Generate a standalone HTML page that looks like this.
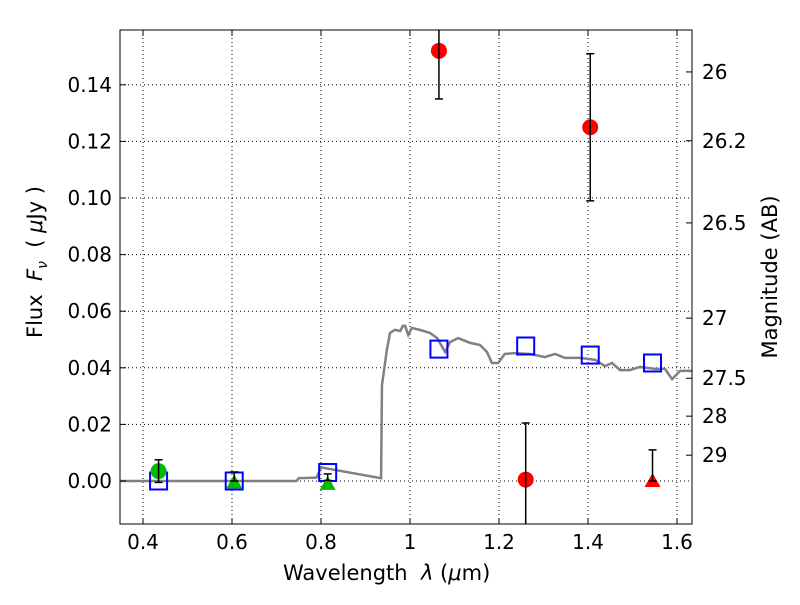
<!DOCTYPE html>
<html><head><meta charset="utf-8"><style>
body{margin:0;background:#fff;}
svg text{font-family:"DejaVu Sans","Liberation Sans",sans-serif;fill:#000;}
</style></head><body>
<svg id="c" width="800" height="600"></svg>
<script>
const modelLam=[0.35,0.745,0.75,0.79,0.8,0.935,0.937,0.948,0.955,0.966,0.978,0.984,0.989,0.996,1.004,1.022,1.045,1.061,1.079,1.090,1.108,1.135,1.157,1.173,1.184,1.198,1.213,1.236,1.270,1.303,1.326,1.348,1.382,1.416,1.438,1.454,1.472,1.494,1.517,1.551,1.573,1.589,1.607,1.634];
const modelFlux=[0,0,0.001,0.0012,0.0048,0.001,0.0339,0.0463,0.0523,0.0534,0.053,0.0548,0.0548,0.0516,0.0541,0.0534,0.0523,0.0505,0.0456,0.0491,0.0505,0.0488,0.0481,0.0456,0.0417,0.0417,0.0449,0.0452,0.0449,0.0438,0.0449,0.0435,0.0435,0.0428,0.0406,0.0417,0.0392,0.0392,0.0403,0.0396,0.0396,0.036,0.0389,0.0389];
const sqLam=[0.435,0.605,0.815,1.065,1.26,1.405,1.545];
const sqFlux=[0,0,0.003,0.0466,0.0477,0.0445,0.0417];
const gcLam=[0.435];const gcFlux=[0.0035];const gcLo=[-0.0005];const gcHi=[0.0075];
const gtLam=[0.605,0.815];const gtFlux=[-0.0005,-0.001];const gtLo=[0,0.0002];const gtHi=[0.0032,0.0025];
const rcLam=[1.065,1.405,1.26];const rcFlux=[0.152,0.125,0.0005];const rcLo=[0.135,0.099,-0.02];const rcHi=[0.17,0.151,0.0205];
const rtLam=[1.545];const rtFlux=[0];const rtLo=[0];const rtHi=[0.011];
const xTicks=[0.4,0.6,0.8,1,1.2,1.4,1.6];
const yTicks=[0,0.02,0.04,0.06,0.08,0.1,0.12,0.14];
const magTicks=[26,26.2,26.5,27,27.5,28,29];

const L=120,R=692,T=30,B=524;
const sx=v=>143+(v-0.4)*445;
const sy=v=>481-v*2830;
const svg=document.getElementById('c');
const NS='http://www.w3.org/2000/svg';
function mk(t,a,p){const e=document.createElementNS(NS,t);for(const k in a)e.setAttribute(k,a[k]);(p||svg).appendChild(e);return e;}
const defs=mk('defs',{});const cp=mk('clipPath',{id:'pc'},defs);mk('rect',{x:L,y:T,width:R-L,height:B-T},cp);
const plot=mk('g',{'clip-path':'url(#pc)'});


xTicks.forEach(v=>{const g=mk('line',{x1:sx(v),x2:sx(v),y1:T,y2:B,stroke:'#000','stroke-width':1,'stroke-dasharray':'1,3'},plot);

});
yTicks.forEach(v=>{const g=mk('line',{x1:L,x2:R,y1:sy(v),y2:sy(v),stroke:'#000','stroke-width':1,'stroke-dasharray':'1,3'},plot);

});
const ml=mk('polyline',{points:modelLam.map((l,i)=>sx(l)+','+sy(modelFlux[i])).join(' '),fill:'none',stroke:'#808080','stroke-width':2.5},plot);


sqLam.forEach((l,i)=>{const r=mk('rect',{x:sx(l)-8.5,y:sy(sqFlux[i])-8.5,width:17,height:17,fill:'none',stroke:'#0000ff','stroke-width':2},plot);

});
function errbar(x,lo,hi){const g=mk('g',{},plot);


mk('line',{x1:x,x2:x,y1:sy(lo),y2:sy(hi),stroke:'#000','stroke-width':1.5},g);
mk('line',{x1:x-4,x2:x+4,y1:sy(lo),y2:sy(lo),stroke:'#000','stroke-width':1.5},g);
mk('line',{x1:x-4,x2:x+4,y1:sy(hi),y2:sy(hi),stroke:'#000','stroke-width':1.5},g);}
function circ(lams,fl,lo,hi,col,name){lams.forEach((l,i)=>{const c=mk('circle',{cx:sx(l),cy:sy(fl[i]),r:8,fill:col},plot);


errbar(sx(l),lo[i],hi[i]);});}
function tri(lams,fl,lo,hi,col,name){lams.forEach((l,i)=>{const x=sx(l),y=sy(fl[i]);const t=mk('polygon',{points:`${x},${y-8} ${x-8},${y+6} ${x+8},${y+6}`,fill:col},plot);


errbar(x,lo[i],hi[i]);});}
circ(gcLam,gcFlux,gcLo,gcHi,'#00bb00','green-detection-point');
tri(gtLam,gtFlux,gtLo,gtHi,'#00bb00','green-upper-limit-triangle');
circ(rcLam,rcFlux,rcLo,rcHi,'#ff0000','red-detection-point');
tri(rtLam,rtFlux,rtLo,rtHi,'#ff0000','red-upper-limit-triangle');
const fr=mk('rect',{x:L,y:T,width:R-L,height:B-T,fill:'none',stroke:'#000','stroke-width':1});


xTicks.forEach(v=>{mk('line',{x1:sx(v),x2:sx(v),y1:B,y2:B-6,stroke:'#000'});mk('line',{x1:sx(v),x2:sx(v),y1:T,y2:T+6,stroke:'#000'});
const t=mk('text',{x:sx(v),y:B+25,'text-anchor':'middle','font-size':20});t.textContent=v===1?'1':v.toFixed(1);

});
yTicks.forEach(v=>{mk('line',{x1:L,x2:L+6,y1:sy(v),y2:sy(v),stroke:'#000'});
const t=mk('text',{x:L-8,y:sy(v)+7,'text-anchor':'end','font-size':20});t.textContent=v.toFixed(2);

});
magTicks.forEach(m=>{const y=sy(Math.pow(10,(23.9-m)/2.5));mk('line',{x1:R,x2:R-6,y1:y,y2:y,stroke:'#000'});
const t=mk('text',{x:R+10,y:y+7,'font-size':20});t.textContent=String(m);

});
</script>
<div style="position:absolute;left:0;top:0;width:800px;height:600px;pointer-events:none">
<div style="position:absolute;left:283px;top:561px;font:21px 'DejaVu Sans',sans-serif;white-space:pre">Wavelength  <i>λ</i> (<i>μ</i>m)</div>
<div style="position:absolute;left:37px;top:262px;transform:translate(-50%,-50%) rotate(-90deg);font:21px 'DejaVu Sans',sans-serif;white-space:pre">Flux  <i>F<sub style="font-size:14px">ν</sub></i>  ( <i>μ</i>Jy )</div>
<div style="position:absolute;left:770px;top:277px;transform:translate(-50%,-50%) rotate(-90deg);font:21px 'DejaVu Sans',sans-serif;white-space:pre">Magnitude (AB)</div>
</div>
</body></html>
